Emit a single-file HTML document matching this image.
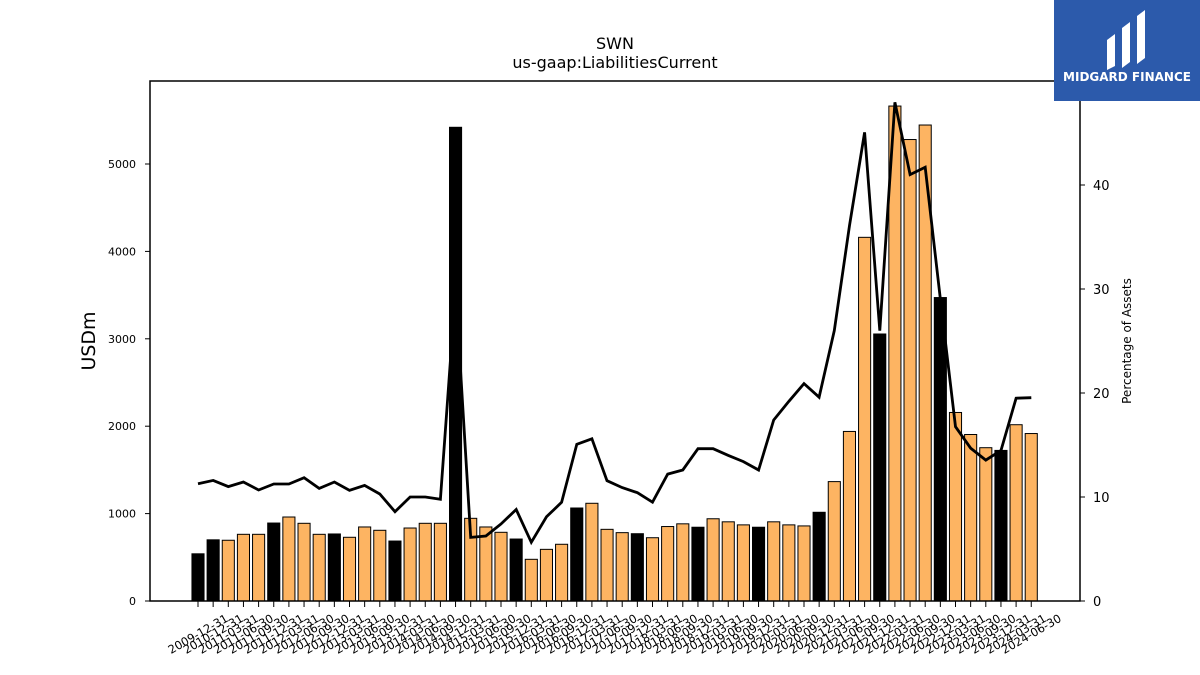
<!DOCTYPE html>
<html><head><meta charset="utf-8"><style>
body{margin:0;background:#fff;}
svg{display:block;font-family:"DejaVu Sans","Liberation Sans",sans-serif;}
</style></head><body>
<svg id="chart" width="1200" height="675" viewBox="0 0 1200 675" xmlns="http://www.w3.org/2000/svg">
<rect width="1200" height="675" fill="#fff"/>
<text x="615" y="49" text-anchor="middle" font-size="16">SWN</text>
<text x="615" y="68" text-anchor="middle" font-size="16">us-gaap:LiabilitiesCurrent</text>
<g id="bars"></g>
<g id="line"></g>
<rect x="150" y="81" width="930" height="520" fill="none" stroke="#000" stroke-width="1.5"/>
<g id="yl"></g>
<g id="yr"></g>
<g id="xa"></g>
<text transform="translate(95,341) rotate(-90)" text-anchor="middle" font-size="19">USDm</text>
<text transform="translate(1131,341) rotate(-90)" text-anchor="middle" font-size="12">Percentage of Assets</text>
<g>
<rect x="1054" y="0" width="146" height="101" fill="#2c5aab"/>
<path d="M1107 40 L1115 34 L1115 66 L1107 70 Z M1122 28 L1130 22 L1130 62 L1122 68 Z M1137 16 L1145 10 L1145 58 L1137 64 Z" fill="#fff"/>
<text x="1127" y="81" text-anchor="middle" font-size="12" font-weight="bold" fill="#fff">MIDGARD FINANCE</text>
</g>
</svg>
<script>
const labels=["2009-12-31","2010-12-31","2011-03-31","2011-06-30","2011-09-30","2011-12-31","2012-03-31","2012-06-30","2012-09-30","2012-12-31","2013-03-31","2013-06-30","2013-09-30","2013-12-31","2014-03-31","2014-06-30","2014-09-30","2014-12-31","2015-03-31","2015-06-30","2015-09-30","2015-12-31","2016-03-31","2016-06-30","2016-09-30","2016-12-31","2017-03-31","2017-06-30","2017-09-30","2017-12-31","2018-03-31","2018-06-30","2018-09-30","2018-12-31","2019-03-31","2019-06-30","2019-09-30","2019-12-31","2020-03-31","2020-06-30","2020-09-30","2020-12-31","2021-03-31","2021-06-30","2021-09-30","2021-12-31","2022-03-31","2022-06-30","2022-09-30","2022-12-31","2023-03-31","2023-06-30","2023-09-30","2023-12-31","2024-03-31","2024-06-30"];
const liabilities=[540,700,695,763,763,892,961,889,763,767,729,847,809,686,835,889,889,5420,946,847,786,709,477,591,649,1064,1118,820,782,770,724,852,883,844,941,906,871,844,906,871,859,1015,1366,1940,4161,3055,5663,5280,5446,3472,2157,1905,1754,1723,2017,1916];
const pctAssets=[11.28,11.6,11.0,11.44,10.67,11.25,11.25,11.86,10.83,11.44,10.64,11.12,10.29,8.59,10.0,10.0,9.78,30.0,6.12,6.25,7.4,8.8,5.64,8.1,9.49,15.07,15.6,11.57,10.9,10.41,9.5,12.2,12.6,14.64,14.64,14.0,13.4,12.6,17.4,19.2,20.9,19.6,26.0,36.1,45.06,26.0,47.95,41.0,41.7,29.0,16.76,14.7,13.55,14.48,19.5,19.55];
const leftTicks=[0,1000,2000,3000,4000,5000];
const rightTicks=[0,10,20,30,40];
const NS="http://www.w3.org/2000/svg";
const X0=198,STEP=15.15,BW=12.1,Y0=601;
const xPos=i=>X0+STEP*i;
const yL=v=>Y0-v*0.0874;
const yR=v=>Y0-v*10.4;
function mk(t,a,p){const e=document.createElementNS(NS,t);for(const k in a)e.setAttribute(k,a[k]);p.appendChild(e);return e;}
const gb=document.getElementById('bars');
liabilities.forEach((v,i)=>{
  const black=labels[i].endsWith('12-31');
  const r=mk('rect',{x:xPos(i)-BW/2,y:yL(v),width:BW,height:Y0-yL(v),fill:black?'#000':'#fdb462',stroke:'#000','stroke-width':1},gb);
  
  
});
const pts=pctAssets.map((v,i)=>xPos(i).toFixed(1)+','+yR(v).toFixed(1)).join(' ');
const pl=mk('polyline',{points:pts,fill:'none',stroke:'#000','stroke-width':2.8,'stroke-linejoin':'miter'},document.getElementById('line'));


const gl=document.getElementById('yl');
leftTicks.forEach(v=>{
  mk('line',{x1:145,x2:150,y1:yL(v),y2:yL(v),stroke:'#000'},gl);
  const t=mk('text',{x:136,y:yL(v)+4,'text-anchor':'end','font-size':11},gl);
  t.textContent=v;
  
  
});
const gr=document.getElementById('yr');
rightTicks.forEach(v=>{
  mk('line',{x1:1080,x2:1085,y1:yR(v),y2:yR(v),stroke:'#000'},gr);
  const t=mk('text',{x:1093,y:yR(v)+5,'font-size':13},gr);
  t.textContent=v;
  
  
});
const gx=document.getElementById('xa');
labels.forEach((l,i)=>{
  const x=xPos(i);
  mk('line',{x1:x,x2:x,y1:601,y2:607,stroke:'#000'},gx);
  const t=mk('text',{x:x,y:634,'text-anchor':'middle','dominant-baseline':'central','font-size':11.5,transform:`rotate(-30 ${x} 634)`},gx);
  t.textContent=l;
  
  
});
</script>
</body></html>
